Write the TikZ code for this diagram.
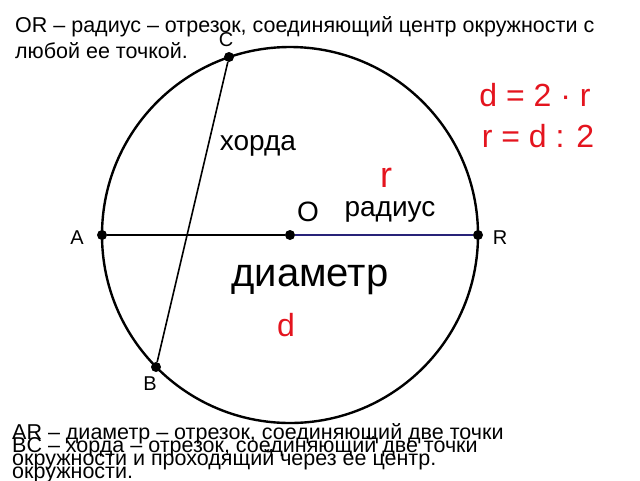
\documentclass[tikz,border=0pt]{standalone}
\usepackage{fontspec}
\setmainfont{Liberation Sans}
\usepackage{xcolor}
\usetikzlibrary{positioning}
\definecolor{radiusblue}{RGB}{40,35,120}
\definecolor{formulared}{RGB}{228,20,30}

\begin{document}
\begin{tikzpicture}[x=1pt,y=-1pt,
      dot node/.style={circle,fill=black,inner sep=0pt,minimum size=10pt},
      point label/.style={font=\fontsize{20}{20}\selectfont},
      word label/.style={font=\fontsize{28}{28}\selectfont},
      red label/.style={text=formulared},
      note text/.style={anchor=base west,align=left,inner sep=0pt,
        font=\fontsize{21.5}{26}\selectfont}]
    \useasboundingbox (0,0) rectangle (640,480);

        \node[dot node] (O) at (290,235) {};
        \node[dot node] (A) at (102,235) {};
        \node[dot node] (R) at (478,235) {};
        \node[dot node] (C) at (229,57) {};
        \node[dot node] (B) at (156,367) {};

        \draw[line width=2.4pt] (O) circle (188pt);
        \draw[line width=1.3pt] (A) -- (O);
        \draw[line width=2.6pt,radiusblue] (O) -- (R);
        \draw[line width=1.6pt] (B) -- (C);

        \node[point label] (lC) at (226,40) {C};
        \node[point label] (lA) at (77,238) {A};
        \node[point label] (lR) at (500,238) {R};
        \node[point label] (lB) at (150,384) {B};

        \node[word label] (lO) at (308,212) {O};
        \node[word label] (radius) at (390,212) {радиус};
        \node[word label] (chord) at (258,146) {хорда};
        \node[font=\fontsize{40}{40}\selectfont] (diam) at (310,280) {диаметр};
        \node[red label,font=\fontsize{36}{36}\selectfont] (r) at (386,178) {r};
        \node[red label,font=\fontsize{32}{32}\selectfont] (d) at (286,325) {d};
        \node[red label,font=\fontsize{32}{32}\selectfont] (f1) at (535,95) {d = 2 · r};
        \node[red label,font=\fontsize{32}{32}\selectfont] (f2) at (538,136) {r = d : 2};

        \node[note text] (top) at (15,58)
            {OR – радиус – отрезок, соединяющий центр окружности с\\любой ее точкой.};
        \node[note text] (diamtext) at (12,465)
            {AR – диаметр – отрезок, соединяющий две точки\\окружности и проходящий через ее центр.};
        \node[note text] (chordtext) at (12,478)
            {BC – хорда – отрезок, соединяющий две точки\\окружности.};
    \end{tikzpicture}
\end{document}
